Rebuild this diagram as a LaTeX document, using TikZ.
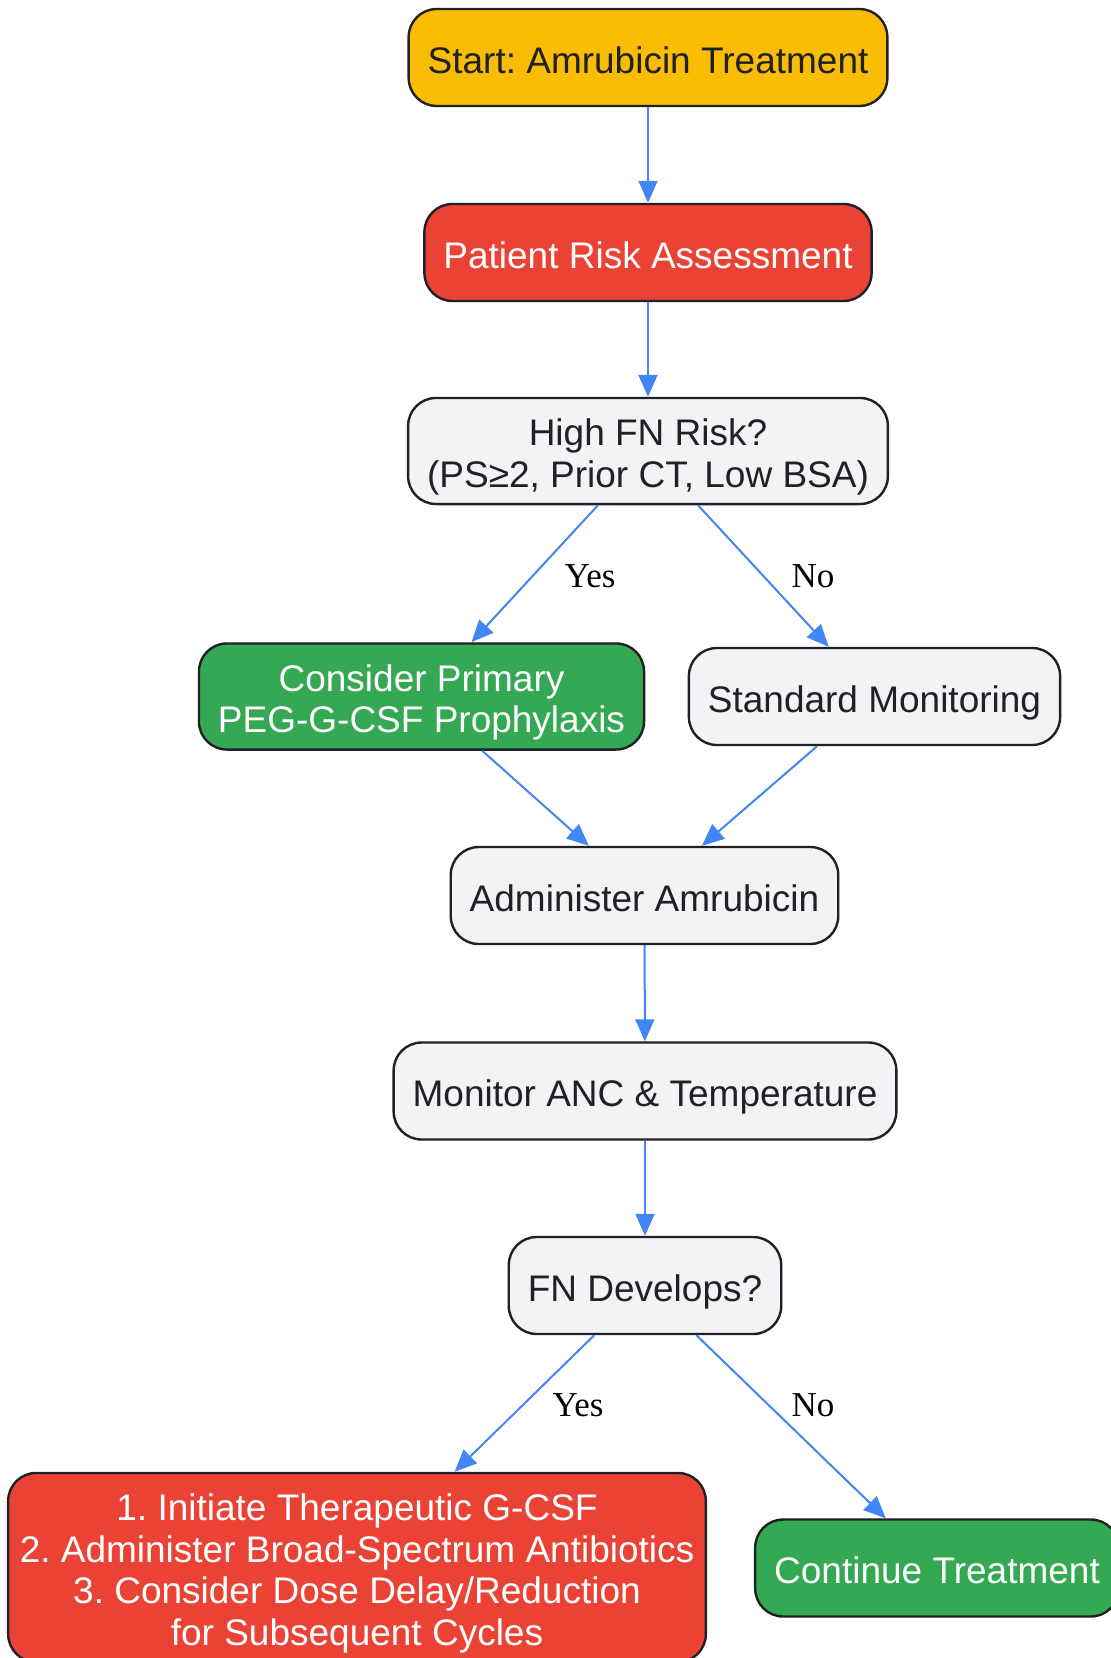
\documentclass[tikz,border=0pt]{standalone}
\usepackage{fontspec}
\setmainfont{Liberation Sans}
\newfontfamily\lblfont{Liberation Serif}
\frenchspacing
\usetikzlibrary{arrows.meta, positioning}

\definecolor{startyellow}{HTML}{FBBC04}
\definecolor{alertred}{HTML}{EA4335}
\definecolor{okgreen}{HTML}{34A853}
\definecolor{stepgrey}{HTML}{F1F3F4}
\definecolor{edgeblue}{HTML}{4285F4}
\definecolor{inkdark}{HTML}{202124}

\tikzset{
    box/.style={draw=inkdark, line width=1.2pt, rounded corners=14pt, align=center,
        inner xsep=9.5pt, inner ysep=8.3pt, minimum height=48.5pt,
        text height=15.7pt, text depth=0pt,
        font=\fontsize{18.5}{20.75}\selectfont},
    twolines/.style={text height=36.45pt},
    fourlines/.style={text height=77.95pt},
    greybox/.style={box, fill=stepgrey, text=inkdark},
    redbox/.style={box, fill=alertred, text=white},
    greenbox/.style={box, fill=okgreen, text=white},
    flow/.style={draw=edgeblue, line width=1pt, -{Triangle[length=11pt, width=9.5pt]}},
    lbl/.style={font=\lblfont\fontsize{17.5}{20}\selectfont, inner sep=0pt}
}

\begin{document}
\begin{tikzpicture}[x=0.5pt, y=-0.5pt]
        \useasboundingbox (0,0) rectangle (1110,1658);

        \node[box, fill=startyellow, text=inkdark] (start) at (648,57.5) {Start: Amrubicin Treatment};
        \node[redbox] (risk) at (648,252.5) {Patient Risk Assessment};
        \node[greybox, twolines] (high) at (648,451) {High FN Risk?\\(PS≥2, Prior CT, Low BSA)};
        \node[greenbox, twolines] (prophylaxis) at (421.5,696.5) {Consider Primary\\PEG-G-CSF Prophylaxis};
        \node[greybox] (standard) at (874.5,696.5) {Standard Monitoring};
        \node[greybox] (administer) at (644.5,895.5) {Administer Amrubicin};
        \node[greybox] (monitor) at (645,1091) {Monitor ANC \& Temperature};
        \node[greybox] (fn) at (645,1285.5) {FN Develops?};
        \node[redbox, fourlines, inner xsep=5.8pt] (manage) at (357,1567.5) {1. Initiate Therapeutic G-CSF\\2. Administer Broad-Spectrum Antibiotics\\3. Consider Dose Delay/Reduction\\for Subsequent Cycles};
        \node[greenbox] (continue) at (937,1568) {Continue Treatment};

        \node[lbl] (yesrisk) at (590,576) {Yes};
        \node[lbl] (norisk) at (813,576) {No};
        \node[lbl] (yesfn) at (578,1405) {Yes};
        \node[lbl] (nofn) at (813,1405) {No};

        \draw[flow] (start) -- (risk);
        \draw[flow] (risk) -- (high);
        \draw[flow] (high) -- (prophylaxis);
        \draw[flow] (high) -- (standard);
        \draw[flow] (prophylaxis) -- (administer);
        \draw[flow] (standard) -- (administer);
        \draw[flow] (administer) -- (monitor);
        \draw[flow] (monitor) -- (fn);
        \draw[flow] (fn) -- (manage);
        \draw[flow] (fn) -- (continue);
    \end{tikzpicture}
\end{document}
